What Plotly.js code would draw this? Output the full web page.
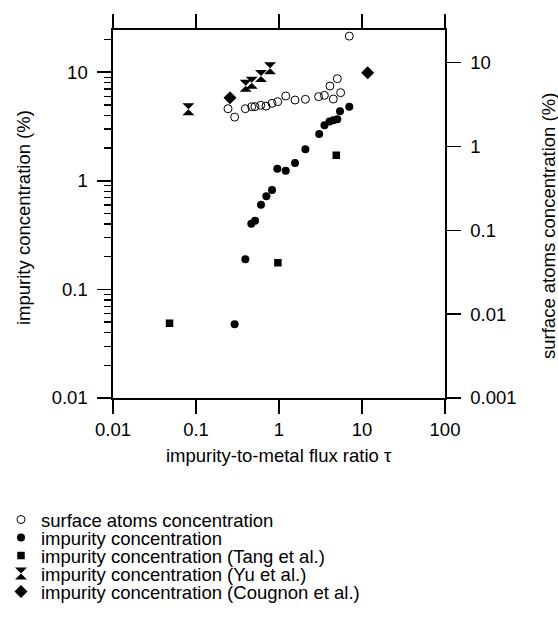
<!DOCTYPE html>
<html>
<head>
<meta charset="utf-8">
<script src="https://cdn.plot.ly/plotly-3.0.1.min.js"></script>
<style>html,body{margin:0;padding:0;background:#fff;}#chart{width:558px;height:617px;}</style>
</head>
<body>
<div id="chart"></div>
<script>
// ---- data ----
const surfX = [0.243, 0.292, 0.393, 0.469, 0.514, 0.602, 0.697, 0.824, 0.964, 1.205, 1.56, 2.08, 3.0, 3.52, 4.11, 4.51, 5.04, 5.53, 7.03];
const surfY = [2.82, 2.24, 2.82, 2.98, 2.98, 3.10, 3.03, 3.27, 3.42, 4.0, 3.58, 3.65, 3.93, 4.07, 5.26, 3.68, 6.43, 4.38, 20.7];

const impX = [0.292, 0.393, 0.464, 0.514, 0.607, 0.704, 0.824, 0.955, 1.205, 1.56, 2.08, 3.05, 3.53, 4.06, 4.51, 5.04, 5.43, 7.03];
const impY = [0.0477, 0.19, 0.403, 0.43, 0.603, 0.721, 0.824, 1.29, 1.24, 1.46, 1.95, 2.70, 3.25, 3.52, 3.62, 3.70, 4.38, 4.82];

const tangX = [0.048, 0.97, 4.9];
const tangY = [0.0488, 0.176, 1.72];

const yuX = [0.081, 0.397, 0.469, 0.607, 0.78];
const yuY = [4.56, 7.52, 8.0, 9.23, 10.9];

const cougX = [0.257, 11.7];
const cougY = [5.83, 9.9];

const seriesNames = [
  'surface atoms concentration',
  'impurity concentration',
  'impurity concentration (Tang et al.)',
  'impurity concentration (Yu et al.)',
  'impurity concentration (Cougnon et al.)'
];

const xTickVals = [0.01, 0.1, 1, 10, 100];
const xTickText = ['0.01', '0.1', '1', '10', '100'];
const yTickVals = [0.01, 0.1, 1, 10];
const yTickText = ['0.01', '0.1', '1', '10'];
const y2TickVals = [0.001, 0.01, 0.1, 1, 10];
const y2TickText = ['0.001', '0.01', '0.1', '1', '10'];

// ---- layout constants ----
const FONT = 'Liberation Sans, Arial, sans-serif';
const FS = 18.5;
const L = 113, R = 113, T = 30, B = 219;
const W = 558, H = 617;
const plotW = W - L - R, plotH = H - T - B;
const yTop = 1.389; // log10 of axis top

// minor tick positions for the left axis (2..9 in each decade)
const minorVals = [];
for (let d = -2; d <= 1; d++) {
  for (let k = 2; k <= 9; k++) {
    const v = k * Math.pow(10, d);
    if (Math.log10(v) < yTop) minorVals.push(v);
  }
}

const black = '#000';
const traces = [
  {x: surfX, y: surfY, yaxis: 'y2', name: seriesNames[0], legend: 'legend',
   mode: 'markers', type: 'scatter',
   marker: {symbol: 'circle-open', size: 8, color: black, line: {width: 1, color: black}}},
  {x: impX, y: impY, name: seriesNames[1], legend: 'legend2',
   mode: 'markers', type: 'scatter',
   marker: {symbol: 'circle', size: 8, color: black}},
  {x: tangX, y: tangY, name: seriesNames[2], legend: 'legend3',
   mode: 'markers', type: 'scatter',
   marker: {symbol: 'square', size: 7.5, color: black}},
  {x: yuX, y: yuY, name: seriesNames[3], legend: 'legend4',
   mode: 'markers', type: 'scatter',
   marker: {symbol: 'hourglass', size: 12, color: black}},
  {x: cougX, y: cougY, name: seriesNames[4], legend: 'legend5',
   mode: 'markers', type: 'scatter',
   marker: {symbol: 'diamond', size: 10, color: black}}
];

function legendAt(rowPx) {
  return {
    x: (1 - L) / plotW, xanchor: 'left',
    y: (H - B - rowPx) / plotH, yanchor: 'middle',
    font: {family: FONT, size: FS, color: black},
    bgcolor: 'rgba(0,0,0,0)', borderwidth: 0,
    itemsizing: 'trace'
  };
}
const rows = [520, 538, 556, 574, 592];

const axisCommon = {
  type: 'log', showgrid: false, zeroline: false, showline: true, automargin: false,
  linecolor: black, linewidth: 1.6,
  ticks: 'outside', ticklen: 14, tickwidth: 1.6, tickcolor: black,
  tickfont: {family: FONT, size: FS, color: black},
  tickmode: 'array'
};

const titleFont = {family: FONT, size: FS, color: black};

const layout = {
  width: W, height: H,
  margin: {l: L, r: R, t: T, b: B, pad: 0, autoexpand: false},
  paper_bgcolor: '#fff', plot_bgcolor: '#fff',
  font: {family: FONT, size: FS, color: black},
  showlegend: true,
  xaxis: Object.assign({}, axisCommon, {
    range: [-2, 2], mirror: 'ticks',
    tickvals: xTickVals, ticktext: xTickText,
    ticklabelstandoff: 0
  }),
  yaxis: Object.assign({}, axisCommon, {
    range: [-2, yTop],
    tickvals: yTickVals, ticktext: yTickText,
    ticklabelstandoff: 6,
    minor: {tickmode: 'array', tickvals: minorVals, ticks: 'outside', ticklen: 7, tickwidth: 1.3, tickcolor: black, showgrid: false}
  }),
  yaxis2: Object.assign({}, axisCommon, {
    range: [-3, yTop], overlaying: 'y', side: 'right',
    tickvals: y2TickVals, ticktext: y2TickText,
    ticklabelstandoff: 6
  }),
  annotations: [
    {text: 'impurity-to-metal flux ratio τ', xref: 'paper', yref: 'paper',
     x: 0.5, y: (H - B - 455) / plotH, xanchor: 'center', yanchor: 'middle',
     showarrow: false, font: titleFont},
    {text: 'impurity concentration (%)', xref: 'paper', yref: 'paper',
     x: (23 - L) / plotW, y: (H - B - 218) / plotH, xanchor: 'center', yanchor: 'middle',
     textangle: -90, showarrow: false, font: titleFont},
    {text: 'surface atoms concentration (%)', xref: 'paper', yref: 'paper',
     x: (549 - L) / plotW, y: (H - B - 226) / plotH, xanchor: 'center', yanchor: 'middle',
     textangle: -90, showarrow: false, font: titleFont}
  ],
  legend: legendAt(rows[0]),
  legend2: legendAt(rows[1]),
  legend3: legendAt(rows[2]),
  legend4: legendAt(rows[3]),
  legend5: legendAt(rows[4])
};

Plotly.newPlot('chart', traces, layout, {staticPlot: true, displayModeBar: false});
</script>
</body>
</html>
